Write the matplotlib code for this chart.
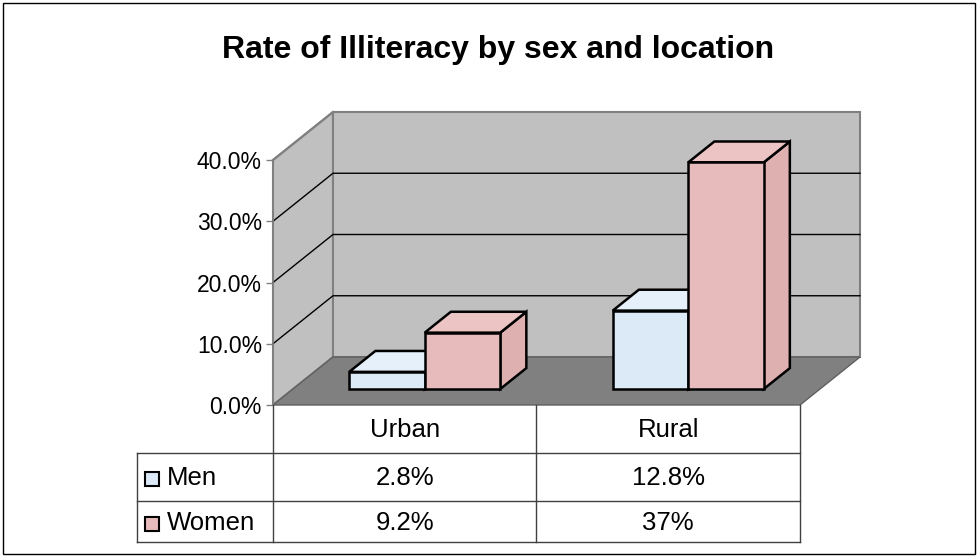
import matplotlib
matplotlib.use("Agg")
import matplotlib.pyplot as plt
from matplotlib.patches import Polygon, Rectangle

plt.rcParams['font.family'] = ['Liberation Sans', 'DejaVu Sans']

title = "Rate of Illiteracy by sex and location"
categories = ["Urban", "Rural"]
series = ["Men", "Women"]
men = [2.8, 12.8]
women = [9.2, 37.0]
value_labels = [["2.8%", "12.8%"], ["9.2%", "37%"]]
yticks = [0, 10, 20, 30, 40]

face_colors = {"Men": ("#DCE9F7", "#E6F0FA", "#CCDCEC"),
               "Women": ("#E7BBBB", "#EDC4C4", "#DFB0B0")}

W, H = 978, 556
FS_TICK = 16.5
FS_TAB = 18.5
fig = plt.figure(figsize=(W / 100, H / 100), dpi=100)
fig.patch.set_facecolor("white")

# main axes: front plane px x 273..800 = categories 0..2, y 405..160 = 0..40%
px_x = 263.5
px_y = 6.125
left_px, right_px, top_px, bot_px = 273, 862, 112, 405
ax = fig.add_axes([left_px / W, 1 - bot_px / H, (right_px - left_px) / W, (bot_px - top_px) / H])
ax.set_xlim(0, (right_px - left_px) / px_x)
ax.set_ylim(0, (bot_px - top_px) / px_y)
for s in ax.spines.values():
    s.set_visible(False)
ax.set_xticks([])
ax.set_yticks(yticks)
ax.set_yticklabels([f"{v:.1f}%" for v in yticks], fontsize=FS_TICK)
ax.tick_params(axis="y", length=5, width=1, color="#808080", pad=3)
ax.patch.set_alpha(0)

n = len(categories)
Dx, Dy = 60 / px_x, 48 / px_y
ymax = max(yticks)

# walls and floor
ax.add_patch(Polygon([(0, 0), (Dx, Dy), (Dx, ymax + Dy), (0, ymax)], closed=True,
                     facecolor="#C0C0C0", edgecolor="#808080", lw=1.5, clip_on=False, zorder=1))
ax.add_patch(Polygon([(Dx, Dy), (n + Dx, Dy), (n + Dx, ymax + Dy), (Dx, ymax + Dy)], closed=True,
                     facecolor="#C0C0C0", edgecolor="#808080", lw=1.5, clip_on=False, zorder=1))
for v in yticks[1:-1]:
    ax.plot([0, Dx, n + Dx], [v, v + Dy, v + Dy], color="black", lw=1, zorder=2, clip_on=False)
ax.plot([0, Dx], [ymax, ymax + Dy], color="#808080", lw=1.5, zorder=2, clip_on=False)
ax.add_patch(Polygon([(0, 0), (n, 0), (n + Dx, Dy), (Dx, Dy)], closed=True,
                     facecolor="#808080", edgecolor="#606060", lw=1, clip_on=False, zorder=3))
ax.plot([0, 0], [0, ymax], color="#808080", lw=1.2, zorder=3, clip_on=False)

# bars
bar_w = 0.2865
f_front, f_depth = 1 / 3, 0.435
vals = {"Men": men, "Women": women}
for i in range(n):
    for j, s in enumerate(series):
        v = vals[s][i]
        x0 = i + 0.5 - bar_w + j * bar_w + f_front * Dx
        y0 = f_front * Dy
        x1 = x0 + bar_w
        y1 = y0 + v
        dx, dy = f_depth * Dx, f_depth * Dy
        fc, tc, sc = face_colors[s]
        kw = dict(closed=True, edgecolor="black", lw=1.8, joinstyle="miter", zorder=5 + j, clip_on=False)
        ax.add_patch(Polygon([(x1, y0), (x1 + dx, y0 + dy), (x1 + dx, y1 + dy), (x1, y1)], facecolor=sc, **kw))
        ax.add_patch(Polygon([(x0, y1), (x1, y1), (x1 + dx, y1 + dy), (x0 + dx, y1 + dy)], facecolor=tc, **kw))
        ax.add_patch(Polygon([(x0, y0), (x1, y0), (x1, y1), (x0, y1)], facecolor=fc, **kw))

# data table
lab_px = 136
lab_w = lab_px / px_x
tab_top, tab_bot = 405, 542
rows = [0, 48, 96, 137]
tax = fig.add_axes([(left_px - lab_px) / W, 1 - tab_bot / H, (800 - left_px + lab_px) / W, (tab_bot - tab_top) / H])
tax.set_xlim(-lab_w, n)
tax.set_ylim(rows[-1], 0)
tax.axis("off")
lc = "#404040"
for xv in range(n + 1):
    tax.plot([xv, xv], [0, rows[-1]], color=lc, lw=1, clip_on=False)
tax.plot([-lab_w, -lab_w], [rows[1], rows[-1]], color=lc, lw=1, clip_on=False)
for r in rows[1:]:
    tax.plot([-lab_w, n], [r, r], color=lc, lw=1, clip_on=False)
for i, c in enumerate(categories):
    tax.text(i + 0.5, (rows[0] + rows[1]) / 2 + 1, c, ha="center", va="center", fontsize=FS_TAB)
sq = 14 / px_x
for j, s in enumerate(series):
    yc = (rows[j + 1] + rows[j + 2]) / 2 + 1
    tax.add_patch(Rectangle((-lab_w + 8 / px_x, yc - 6), sq, 14, facecolor=face_colors[s][0],
                            edgecolor="black", lw=1.5, clip_on=False))
    tax.text(-lab_w + 30 / px_x, yc, s, ha="left", va="center", fontsize=FS_TAB)
    for i in range(n):
        tax.text(i + 0.5, yc, value_labels[j][i], ha="center", va="center", fontsize=FS_TAB)

fig.text(498 / W, 1 - 50 / H, title, ha="center", va="center", fontsize=23, fontweight="bold")
fig.patches.append(Rectangle((2.5 / W, 2.5 / H), (W - 5) / W, (H - 5) / H, transform=fig.transFigure,
                             fill=False, edgecolor="black", lw=1))

fig.savefig("out.png", dpi=100)
